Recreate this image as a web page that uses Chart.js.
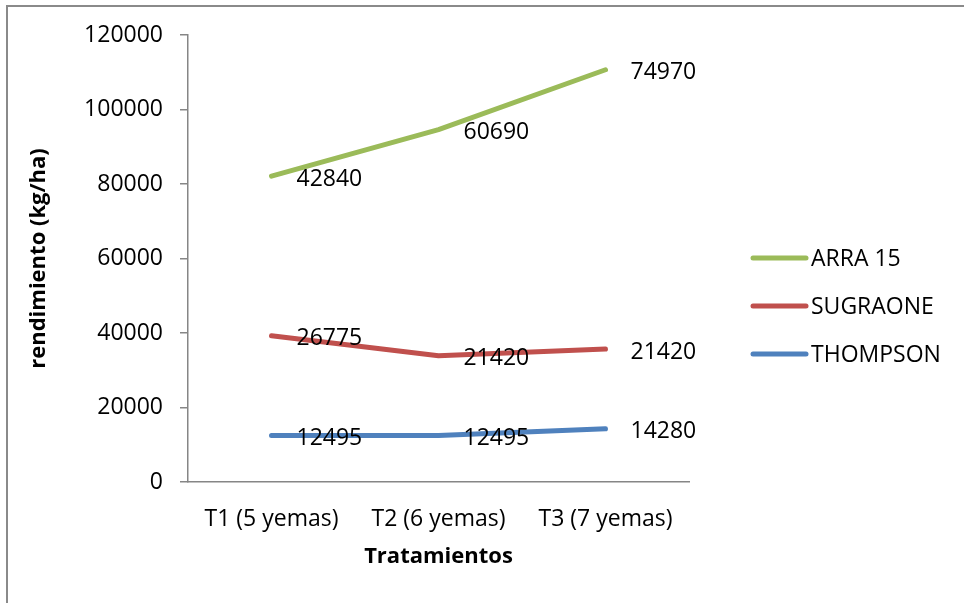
<!DOCTYPE html>
<html>
<head>
<meta charset="utf-8">
<script src="https://cdn.jsdelivr.net/npm/chart.js@4"></script>
<style>
  body { margin: 0; background: #fff; }
  #frame { position: absolute; left: 6px; top: 5px; width: 970px; height: 610px;
           border-left: 2px solid #8a8a8a; border-top: 2px solid #8a8a8a; }
  #wrap { position: absolute; left: 0; top: 0; width: 964px; height: 603px; }
</style>
</head>
<body>
<div id="frame"></div>
<div id="wrap"><canvas id="lineChart"></canvas></div>
<script>
const tratamientos = ['T1 (5 yemas)', 'T2 (6 yemas)', 'T3 (7 yemas)']
const thompson = [12495, 12495, 14280]
const sugraone = [26775, 21420, 21420]
const arra15 = [42840, 60690, 74970]

const FONT = "Open Sans"

// etiquetas de valor a la derecha de cada punto
const valueLabels = {
    id: 'valueLabels',
    afterDatasetsDraw(chart) {
        const ctx = chart.ctx
        ctx.save()
        ctx.font = `23px "${FONT}"`
        ctx.fillStyle = '#000'
        ctx.textAlign = 'left'
        ctx.textBaseline = 'middle'
        chart.data.datasets.forEach((ds, i) => {
            chart.getDatasetMeta(i).data.forEach((pt, j) => {
                ctx.fillText(String(ds.data[j]), pt.x + 25, pt.y + 3)
            })
        })
        ctx.restore()
    }
}

// leyenda a la derecha, en orden inverso como en Excel
const sideLegend = {
    id: 'sideLegend',
    afterDraw(chart) {
        const ctx = chart.ctx
        const ds = chart.data.datasets.slice().reverse()
        ctx.save()
        ctx.font = `23px "${FONT}"`
        ctx.textAlign = 'left'
        ctx.textBaseline = 'middle'
        ds.forEach((d, i) => {
            const y = 258 + i * 48
            ctx.strokeStyle = d.borderColor
            ctx.lineWidth = 5
            ctx.lineCap = 'round'
            ctx.beginPath()
            ctx.moveTo(753, y)
            ctx.lineTo(806, y)
            ctx.stroke()
            ctx.fillStyle = '#000'
            ctx.fillText(d.label, 811, y + 1)
        })
        ctx.restore()
    }
}

const ctx = document.getElementById('lineChart').getContext('2d')

new Chart(ctx, {
    type: 'line',
    data: {
        labels: tratamientos,
        datasets: [
            { label: 'THOMPSON', data: thompson, borderColor: '#4F81BD' },
            { label: 'SUGRAONE', data: sugraone, borderColor: '#C0504D' },
            { label: 'ARRA 15', data: arra15, borderColor: '#9BBB59' },
        ]
    },
    options: {
        responsive: true,
        maintainAspectRatio: false,
        animation: false,
        layout: { padding: { left: 8, top: 35, right: 275, bottom: 0 } },
        elements: {
            line: { borderWidth: 5, tension: 0, borderCapStyle: 'round', borderJoinStyle: 'round' },
            point: { radius: 0, hoverRadius: 0 }
        },
        scales: {
            x: {
                offset: true,
                grid: { drawOnChartArea: false, drawTicks: false },
                border: { color: '#868686', width: 1.5 },
                ticks: { padding: 24, color: '#000', font: { family: FONT, size: 23 } },
                title: {
                    display: true,
                    text: 'Tratamientos',
                    color: '#000',
                    padding: { top: 0, bottom: 33 },
                    font: { family: FONT, size: 22, weight: 'bold' }
                },
                afterFit(scale) { scale.height = 121 }
            },
            y: {
                stacked: true,
                min: 0,
                max: 120000,
                grid: { drawOnChartArea: false, drawTicks: true, tickLength: 8, color: '#868686', lineWidth: 1.5 },
                border: { color: '#868686', width: 1.5 },
                ticks: {
                    stepSize: 20000,
                    padding: 17,
                    color: '#000',
                    font: { family: FONT, size: 23 },
                    callback: (v) => String(v)
                },
                title: {
                    display: true,
                    text: 'rendimiento (kg/ha)',
                    color: '#000',
                    padding: { top: 18, bottom: 0 },
                    font: { family: FONT, size: 22, weight: 'bold' }
                },
                afterFit(scale) { scale.width = 180 }
            }
        },
        plugins: {
            legend: { display: false },
            tooltip: { enabled: false }
        }
    },
    plugins: [valueLabels, sideLegend]
});
</script>
</body>
</html>
